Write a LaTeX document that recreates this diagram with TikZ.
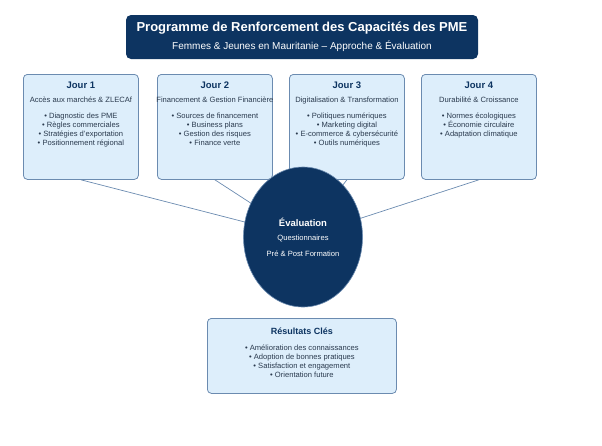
\documentclass[tikz,border=0pt]{standalone}
\usepackage{fontspec}
\setmainfont{Liberation Sans}
\usetikzlibrary{shapes.geometric,positioning,calc}
\definecolor{navy}{HTML}{0D3461}
\definecolor{paleblue}{HTML}{DDEEFB}
\definecolor{edgeblue}{HTML}{6B8BB0}
\definecolor{inktext}{HTML}{2A3A4E}
\tikzset{
  daybox/.style={draw=edgeblue,fill=paleblue,rounded corners=4pt,line width=0.8pt,
    minimum width=115pt,minimum height=105pt,anchor=north west},
  daytext/.style={anchor=north,align=center,font=\fontsize{7.6}{9.2}\selectfont,text=inktext},
  link/.style={draw=edgeblue,line width=0.7pt}
}
\begin{document}
\begin{tikzpicture}[x=1pt,y=-1pt]
  \useasboundingbox (0,0) rectangle (602,445);
  % title banner
  \node[fill=navy,rounded corners=5pt,minimum width=352pt,minimum height=44pt] (title) at (302,37) {};
  \node[text=white,align=center,font=\bfseries\fontsize{13}{14}\selectfont] (ttl) at (302,28) {Programme de Renforcement des Capacités des PME};
  \node[text=white,font=\fontsize{10}{12}\selectfont] (sub) at (302,46) {Femmes \& Jeunes en Mauritanie -- Approche \& Évaluation};
  % day boxes
  \node[daybox] (d1) at (23,74) {};
  \node[daybox] (d2) at (157,74) {};
  \node[daybox] (d3) at (289,74) {};
  \node[daybox] (d4) at (421,74) {};
  % evaluation
  \coordinate (ec) at (303,237);
  \foreach \d in {1,...,4} \draw[link] (d\d.south) -- (ec);
  \node[ellipse,fill=navy,draw=edgeblue,line width=0.6pt,minimum width=119pt,minimum height=140pt] (eval) at (ec) {};
  \node[text=white,font=\bfseries\fontsize{9.5}{11}\selectfont] (evt) at (303,222) {Évaluation};
  \node[text=white,align=center,font=\fontsize{7.6}{16}\selectfont] (evs) at (303,246) {Questionnaires\\Pré \& Post Formation};
  % day texts
  \foreach \d/\t/\s/\l in {
    1/Jour 1/Accès aux marchés \& ZLECAf/{• Diagnostic des PME\\• Règles commerciales\\• Stratégies d'exportation\\• Positionnement régional},
    2/Jour 2/Financement \& Gestion Financière/{• Sources de financement\\• Business plans\\• Gestion des risques\\• Finance verte},
    3/Jour 3/Digitalisation \& Transformation/{• Politiques numériques\\• Marketing digital\\• E-commerce \& cybersécurité\\• Outils numériques},
    4/Jour 4/Durabilité \& Croissance/{• Normes écologiques\\• Économie circulaire\\• Adaptation climatique}}
  {
    \node[text=navy,font=\bfseries\fontsize{9.5}{11}\selectfont,anchor=north] (j\d) at ($(d\d.north)+(0,4)$) {\t};
    \node[daytext] (s\d) at ($(d\d.north)+(0,19)$) {\s};
    \node[daytext] (l\d) at ($(d\d.north)+(0,35)$) {\l};
  }
  % results
  \node[daybox,minimum width=189pt,minimum height=75pt] (res) at (207,318) {};
  \node[text=navy,font=\bfseries\fontsize{9}{11}\selectfont,anchor=north] (rt) at ($(res.north)+(0,6)$) {Résultats Clés};
  \node[daytext] (rl) at ($(res.north)+(0,23)$) {• Amélioration des connaissances\\• Adoption de bonnes pratiques\\• Satisfaction et engagement\\• Orientation future};
\end{tikzpicture}
\end{document}
